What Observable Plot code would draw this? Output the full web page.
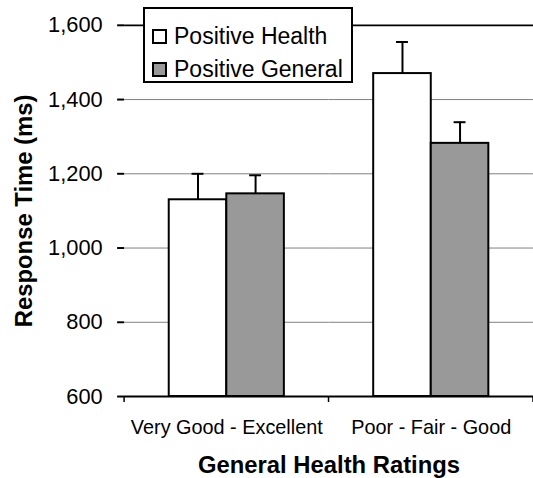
<!DOCTYPE html>
<html>
<head>
<meta charset="utf-8">
<script src="https://cdn.jsdelivr.net/npm/d3@7"></script>
<script src="https://cdn.jsdelivr.net/npm/@observablehq/plot@0.6"></script>
<style>
  html, body { margin: 0; padding: 0; background: #fff; overflow: hidden; }
  #wrap { position: relative; width: 533px; height: 478px; overflow: hidden;
          font-family: "Liberation Sans", Arial, Helvetica, sans-serif; color: #000; }
  #legend { position: absolute; left: 143px; top: 7px; width: 210px; height: 76px;
            box-sizing: border-box; border: 2px solid #000; background: #fff; }
  .item { position: absolute; left: 7px; height: 20px; display: flex; align-items: center;
          font-size: 23px; line-height: 20px; white-space: nowrap; }
  .sw { width: 15px; height: 15px; box-sizing: border-box; border: 2px solid #000; margin-right: 7px; }
</style>
</head>
<body>
<div id="wrap"><div id="legend"></div></div>
<script>
// ---- data ----
const categories = ["Very Good - Excellent", "Poor - Fair - Good"];
const series = ["Positive Health", "Positive General"];
const healthMeans = [1130, 1470];
const generalMeans = [1146, 1282];
const healthErr = [70, 85];
const generalErr = [50, 57];
const yTicks = [600, 800, 1000, 1200, 1400, 1600];
const gridValues = [800, 1000, 1200, 1400];
const yBase = 600;
const yTop = 1600;
const yTitle = "Response Time (ms)";
const xTitle = "General Health Ratings";

const rows = [];
categories.forEach((c, i) => {
  rows.push({category: c, series: series[0], value: healthMeans[i], err: healthErr[i]});
  rows.push({category: c, series: series[1], value: generalMeans[i], err: generalErr[i]});
});

const font = '"Liberation Sans", Arial, Helvetica, sans-serif';

const chart = Plot.plot({
  width: 537,
  height: 478,
  marginLeft: 125,
  marginRight: 0,
  marginTop: 25,
  marginBottom: 79,
  style: {fontFamily: font, fontSize: "21px", color: "#000", background: "transparent", overflow: "visible"},
  fx: {domain: categories, padding: 0},
  x: {domain: series, paddingInner: 0, paddingOuter: 0.76, axis: null},
  y: {domain: [yBase, yTop]},
  color: {domain: series, range: ["#ffffff", "#999999"]},
  marks: [
    Plot.ruleY(gridValues, {stroke: "#808080", strokeWidth: 1}),
    Plot.ruleY([yTop], {stroke: "#000", strokeWidth: 1.8}),
    Plot.barY(rows, {fx: "category", x: "series", y1: () => yBase, y2: "value", fill: "series", stroke: "#000", strokeWidth: 2}),
    Plot.ruleX(rows, {fx: "category", x: "series", y1: "value", y2: d => d.value + d.err, stroke: "#000", strokeWidth: 2}),
    Plot.tickY(rows, {fx: "category", x: "series", y: d => d.value + d.err, stroke: "#000", strokeWidth: 2, insetLeft: 23, insetRight: 23}),
    Plot.ruleY([yBase], {stroke: "#000", strokeWidth: 2}),
    Plot.axisY({ticks: yTicks, tickFormat: d3.format(","), tickSize: 7, tickPadding: 15, fontSize: 22, label: null, line: true, strokeWidth: 2}),
    Plot.axisFx({anchor: "bottom", tickSize: 0, tickPadding: 24, fontSize: 20, label: null}),
    Plot.text([{category: categories[0], t: yTitle}], {fx: "category", text: "t", frameAnchor: "left", dx: -93, rotate: -90, textAnchor: "middle", lineAnchor: "bottom", fontSize: 24, fontWeight: "bold"}),
    Plot.text([{category: categories[0], t: xTitle}], {fx: "category", text: "t", frameAnchor: "bottom-right", dy: 77, textAnchor: "middle", lineAnchor: "bottom", fontSize: 24, fontWeight: "bold"})
  ]
});

// category boundary ticks on the x axis, placed with Plot's fx and y scales
const fxs = chart.scale("fx");
const ys = chart.scale("y");
const bounds = categories.map(c => fxs.apply(c));
bounds.push(fxs.apply(categories[categories.length - 1]) + fxs.bandwidth);
const y0 = ys.apply(yBase);
d3.select(chart).append("g").selectAll("line").data(bounds).join("line")
  .attr("x1", d => d).attr("x2", d => d)
  .attr("y1", y0).attr("y2", y0 + 6)
  .attr("stroke", "#000").attr("stroke-width", 1.5);

const wrap = document.getElementById("wrap");
wrap.insertBefore(chart, wrap.firstChild);

// legend
const color = chart.scale("color");
const legend = d3.select("#legend");
const tops = [17, 50];
series.forEach((s, i) => {
  const it = legend.append("div").attr("class", "item").style("top", tops[i] + "px");
  it.append("div").attr("class", "sw").style("background", color.apply(s));
  it.append("span").text(s);
});
</script>
</body>
</html>
